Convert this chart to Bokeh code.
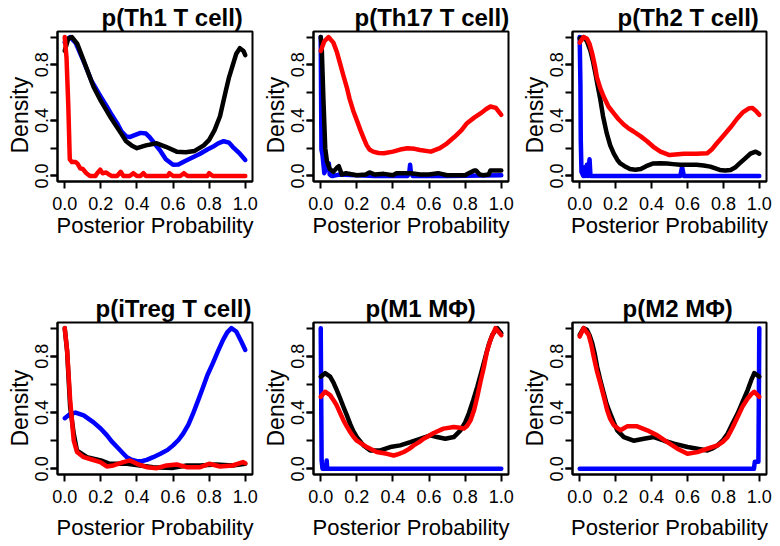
from bokeh.plotting import figure
from bokeh.layouts import row, column
from bokeh.models import Range1d, FixedTicker, NumeralTickFormatter, Title
from bokeh.embed import file_html
from bokeh.resources import INLINE

# ---------------- data (normalised density) ----------------
titles = ["p(Th1 T cell)", "p(Th17 T cell)", "p(Th2 T cell)",
          "p(iTreg T cell)", "p(M1 M\u03a6)", "p(M2 M\u03a6)"]
x_ticks = [0.0, 0.2, 0.4, 0.6, 0.8, 1.0]
y_label_ticks = [0.0, 0.4, 0.8]
y_all_ticks = [0.0, 0.2, 0.4, 0.6, 0.8, 1.0]
x_label = "Posterior Probability"
y_label = "Density"

# Th1
th1_blue_x = [0.0, 0.03, 0.06, 0.1, 0.15, 0.2, 0.233, 0.26, 0.29, 0.315, 0.34, 0.36, 0.38, 0.42, 0.45, 0.47, 0.5, 0.53, 0.56, 0.6, 0.63, 0.67, 0.71, 0.75, 0.79, 0.82, 0.85, 0.88, 0.91, 0.93, 0.97, 1.0]
th1_blue_y = [0.96, 1.0, 0.96, 0.84, 0.68, 0.57, 0.50, 0.44, 0.38, 0.32, 0.285, 0.28, 0.29, 0.31, 0.305, 0.28, 0.23, 0.18, 0.12, 0.08, 0.082, 0.11, 0.135, 0.16, 0.19, 0.21, 0.235, 0.25, 0.24, 0.21, 0.16, 0.115]
th1_black_x = [0.0, 0.02, 0.04, 0.07, 0.105, 0.16, 0.2, 0.25, 0.31, 0.34, 0.37, 0.4, 0.45, 0.51, 0.56, 0.62, 0.67, 0.72, 0.77, 0.8, 0.83, 0.86, 0.89, 0.91, 0.95, 0.97, 0.99, 1.0]
th1_black_y = [0.90, 0.99, 1.0, 0.95, 0.83, 0.64, 0.54, 0.43, 0.31, 0.25, 0.22, 0.20, 0.22, 0.235, 0.21, 0.175, 0.17, 0.18, 0.22, 0.26, 0.33, 0.43, 0.6, 0.71, 0.88, 0.92, 0.9, 0.87]
th1_red_x = [0.0, 0.01, 0.02, 0.028, 0.04, 0.06, 0.07, 0.086, 0.1, 0.12, 0.14, 0.17, 0.18, 0.197, 0.21, 0.23, 0.245, 0.26, 0.29, 0.31, 0.325, 0.36, 0.38, 0.4, 0.42, 0.436, 0.45, 0.57, 0.58, 0.6, 0.64, 0.66, 0.68, 0.79, 0.8, 0.82, 1.0]
th1_red_y = [1.0, 0.85, 0.5, 0.12, 0.1, 0.1, 0.09, 0.055, 0.05, 0.02, 0.0, 0.0, 0.02, 0.045, 0.02, 0.025, 0.01, 0.0, 0.0, 0.03, 0.0, 0.0, 0.02, 0.0, 0.0, 0.02, 0.0, 0.0, 0.02, 0.0, 0.0, 0.02, 0.0, 0.0, 0.02, 0.0, 0.0]

# Th17
th17_blue_x = [0.0, 0.004, 0.01, 0.02, 0.03, 0.045, 0.05, 0.06, 0.07, 0.1, 0.3, 0.48, 0.49, 0.495, 0.5, 0.51, 0.7, 1.0]
th17_blue_y = [1.0, 0.19, 0.15, 0.02, 0.06, 0.09, 0.01, 0.0, 0.0, 0.01, 0.0, 0.0, 0.02, 0.08, 0.02, 0.0, 0.0, 0.005]
th17_black_x = [0.0, 0.005, 0.015, 0.025, 0.035, 0.05, 0.07, 0.09, 0.1, 0.117, 0.14, 0.2, 0.25, 0.27, 0.3, 0.35, 0.4, 0.42, 0.5, 0.55, 0.6, 0.65, 0.7, 0.8, 0.82, 0.85, 0.86, 0.88, 0.9, 0.93, 0.94, 1.0]
th17_black_y = [1.0, 0.95, 0.55, 0.2, 0.1, 0.05, 0.03, 0.06, 0.07, 0.01, 0.02, 0.005, 0.01, 0.025, 0.01, 0.015, 0.005, 0.02, 0.02, 0.01, 0.01, 0.02, 0.005, 0.005, 0.02, 0.04, 0.04, 0.01, 0.005, 0.01, 0.04, 0.04]
th17_red_x = [0.0, 0.02, 0.043, 0.07, 0.09, 0.107, 0.125, 0.144, 0.16, 0.18, 0.2, 0.22, 0.24, 0.255, 0.27, 0.29, 0.32, 0.35, 0.4, 0.44, 0.48, 0.52, 0.55, 0.61, 0.66, 0.7, 0.74, 0.78, 0.81, 0.85, 0.885, 0.915, 0.94, 0.97, 1.0]
th17_red_y = [0.90, 0.97, 1.0, 0.96, 0.89, 0.81, 0.725, 0.64, 0.555, 0.47, 0.40, 0.33, 0.265, 0.22, 0.19, 0.175, 0.165, 0.163, 0.175, 0.19, 0.2, 0.195, 0.187, 0.175, 0.2, 0.235, 0.28, 0.33, 0.38, 0.42, 0.45, 0.48, 0.50, 0.49, 0.44]

# Th2
th2_blue_x = [0.0, 0.004, 0.006, 0.01, 0.02, 0.025, 0.03, 0.04, 0.045, 0.055, 0.06, 0.56, 0.57, 0.58, 1.0]
th2_blue_y = [1.0, 0.66, 0.26, 0.03, 0.0, 0.06, 0.0, 0.08, 0.0, 0.12, 0.0, 0.0, 0.065, 0.0, 0.0]
th2_black_x = [0.0, 0.022, 0.04, 0.06, 0.075, 0.087, 0.1, 0.115, 0.13, 0.15, 0.17, 0.19, 0.21, 0.226, 0.25, 0.28, 0.31, 0.34, 0.37, 0.41, 0.45, 0.486, 0.52, 0.56, 0.6, 0.65, 0.69, 0.727, 0.76, 0.78, 0.81, 0.84, 0.865, 0.89, 0.92, 0.95, 0.98, 1.0]
th2_black_y = [0.99, 1.0, 0.97, 0.9, 0.82, 0.74, 0.65, 0.55, 0.43, 0.31, 0.22, 0.16, 0.115, 0.09, 0.07, 0.05, 0.045, 0.05, 0.07, 0.09, 0.092, 0.09, 0.085, 0.08, 0.08, 0.08, 0.075, 0.067, 0.052, 0.043, 0.04, 0.043, 0.06, 0.09, 0.125, 0.16, 0.175, 0.16]
th2_red_x = [0.0, 0.022, 0.04, 0.055, 0.07, 0.085, 0.096, 0.115, 0.134, 0.16, 0.19, 0.215, 0.245, 0.27, 0.3, 0.34, 0.375, 0.41, 0.45, 0.5, 0.58, 0.65, 0.71, 0.735, 0.76, 0.8, 0.84, 0.875, 0.91, 0.94, 0.96, 0.98, 1.0]
th2_red_y = [0.96, 1.0, 0.99, 0.95, 0.88, 0.79, 0.71, 0.63, 0.57, 0.5, 0.45, 0.41, 0.37, 0.345, 0.32, 0.285, 0.25, 0.21, 0.175, 0.15, 0.16, 0.16, 0.163, 0.19, 0.23, 0.29, 0.35, 0.41, 0.46, 0.485, 0.49, 0.47, 0.44]

# iTreg
itreg_blue_x = [0.0, 0.03, 0.06, 0.105, 0.16, 0.2, 0.233, 0.26, 0.29, 0.32, 0.344, 0.37, 0.4, 0.43, 0.454, 0.49, 0.53, 0.57, 0.6, 0.63, 0.656, 0.685, 0.71, 0.74, 0.766, 0.79, 0.82, 0.85, 0.877, 0.9, 0.923, 0.95, 0.978, 1.0]
itreg_blue_y = [0.36, 0.39, 0.40, 0.38, 0.33, 0.285, 0.24, 0.195, 0.155, 0.115, 0.083, 0.065, 0.055, 0.056, 0.064, 0.083, 0.107, 0.135, 0.167, 0.205, 0.25, 0.315, 0.39, 0.49, 0.58, 0.665, 0.75, 0.84, 0.917, 0.97, 1.0, 0.976, 0.905, 0.845]
itreg_black_x = [0.0, 0.013, 0.03, 0.05, 0.068, 0.123, 0.2, 0.25, 0.344, 0.417, 0.49, 0.6, 0.675, 0.75, 0.84, 0.93, 1.0]
itreg_black_y = [1.0, 0.84, 0.44, 0.25, 0.13, 0.083, 0.06, 0.036, 0.036, 0.024, 0.012, 0.007, 0.024, 0.024, 0.031, 0.024, 0.036]
itreg_red_x = [0.0, 0.013, 0.03, 0.05, 0.068, 0.105, 0.14, 0.197, 0.233, 0.27, 0.325, 0.362, 0.4, 0.454, 0.51, 0.564, 0.62, 0.675, 0.75, 0.8, 0.86, 0.93, 0.987, 1.0]
itreg_red_y = [1.0, 0.845, 0.49, 0.2, 0.12, 0.083, 0.07, 0.048, 0.017, 0.024, 0.048, 0.06, 0.036, 0.012, 0.005, 0.024, 0.031, 0.012, 0.012, 0.036, 0.017, 0.024, 0.048, 0.04]

# M1
m1_blue_x = [0.0, 0.005, 0.01, 0.03, 0.033, 0.036, 1.0]
m1_blue_y = [1.0, 0.06, 0.0, 0.0, 0.06, 0.0, 0.0]
m1_black_x = [0.0, 0.024, 0.052, 0.07, 0.089, 0.108, 0.126, 0.145, 0.163, 0.18, 0.2, 0.237, 0.274, 0.33, 0.385, 0.44, 0.496, 0.55, 0.607, 0.644, 0.69, 0.737, 0.774, 0.8, 0.82, 0.845, 0.867, 0.89, 0.913, 0.93, 0.95, 0.978, 1.0]
m1_black_y = [0.655, 0.68, 0.655, 0.615, 0.56, 0.5, 0.44, 0.38, 0.32, 0.27, 0.226, 0.167, 0.131, 0.131, 0.155, 0.167, 0.19, 0.214, 0.238, 0.226, 0.214, 0.226, 0.274, 0.33, 0.393, 0.49, 0.583, 0.69, 0.8, 0.88, 0.952, 1.0, 0.964]
m1_red_x = [0.0, 0.024, 0.052, 0.07, 0.089, 0.108, 0.126, 0.145, 0.163, 0.18, 0.2, 0.255, 0.31, 0.367, 0.404, 0.43, 0.46, 0.49, 0.515, 0.545, 0.57, 0.6, 0.626, 0.68, 0.737, 0.77, 0.793, 0.81, 0.83, 0.85, 0.867, 0.885, 0.904, 0.92, 0.94, 0.968, 1.0]
m1_red_y = [0.512, 0.548, 0.524, 0.49, 0.45, 0.395, 0.345, 0.3, 0.262, 0.23, 0.2, 0.155, 0.12, 0.107, 0.095, 0.105, 0.12, 0.142, 0.167, 0.19, 0.214, 0.235, 0.255, 0.286, 0.298, 0.292, 0.286, 0.305, 0.345, 0.42, 0.512, 0.62, 0.726, 0.83, 0.917, 1.0, 0.95]

# M2
m2_blue_x = [0.0, 0.97, 0.975, 0.99, 0.995, 1.0]
m2_blue_y = [0.0, 0.0, 0.05, 0.05, 0.05, 1.0]
m2_black_x = [0.0, 0.022, 0.04, 0.055, 0.07, 0.085, 0.097, 0.115, 0.134, 0.15, 0.17, 0.19, 0.209, 0.246, 0.3, 0.357, 0.413, 0.47, 0.525, 0.6, 0.655, 0.711, 0.74, 0.767, 0.795, 0.823, 0.85, 0.879, 0.905, 0.935, 0.955, 0.972, 1.0]
m2_black_y = [0.952, 1.0, 0.988, 0.95, 0.893, 0.81, 0.726, 0.63, 0.536, 0.46, 0.393, 0.33, 0.274, 0.226, 0.2, 0.214, 0.226, 0.2, 0.179, 0.155, 0.143, 0.131, 0.145, 0.167, 0.2, 0.25, 0.32, 0.393, 0.47, 0.56, 0.63, 0.68, 0.655]
m2_red_x = [0.0, 0.022, 0.05, 0.065, 0.078, 0.095, 0.115, 0.135, 0.153, 0.17, 0.19, 0.227, 0.264, 0.32, 0.376, 0.432, 0.488, 0.544, 0.6, 0.655, 0.711, 0.767, 0.795, 0.823, 0.85, 0.879, 0.905, 0.935, 0.955, 0.972, 1.0]
m2_red_y = [0.94, 1.0, 0.952, 0.88, 0.798, 0.7, 0.607, 0.51, 0.417, 0.355, 0.31, 0.274, 0.302, 0.302, 0.274, 0.238, 0.19, 0.143, 0.107, 0.119, 0.143, 0.167, 0.19, 0.226, 0.29, 0.369, 0.44, 0.5, 0.53, 0.548, 0.512]

series = [
    ((th1_blue_x, th1_blue_y), (th1_black_x, th1_black_y), (th1_red_x, th1_red_y)),
    ((th17_blue_x, th17_blue_y), (th17_black_x, th17_black_y), (th17_red_x, th17_red_y)),
    ((th2_blue_x, th2_blue_y), (th2_black_x, th2_black_y), (th2_red_x, th2_red_y)),
    ((itreg_blue_x, itreg_blue_y), (itreg_black_x, itreg_black_y), (itreg_red_x, itreg_red_y)),
    ((m1_blue_x, m1_blue_y), (m1_black_x, m1_black_y), (m1_red_x, m1_red_y)),
    ((m2_blue_x, m2_blue_y), (m2_black_x, m2_black_y), (m2_red_x, m2_red_y)),
]

# ---------------- styling / layout ----------------
FONT = "Liberation Sans"
COLORS = ["#0000ff", "#000000", "#ff0000"]

col_w = [258, 260, 260]
col_left = [57, 55, 54]
col_right = [6, 10, 12]
row_h = [265, 279]
row_top = [31, 57]
row_bottom = [84, 70]
title_offset = [44, 41, 45, 38, 52, 50]
title_standoff = [2, 1]
xlab_standoff = [0, 9]


def make_panel(i):
    r, c = divmod(i, 3)
    p = figure(width=col_w[c], height=row_h[r],
               x_range=Range1d(-0.04, 1.04), y_range=Range1d(-0.04, 1.04),
               output_backend="svg", toolbar_location=None,
               min_border_left=col_left[c], min_border_right=col_right[c],
               min_border_top=row_top[r], min_border_bottom=row_bottom[r])
    p.grid.visible = False
    p.background_fill_color = "white"
    p.border_fill_color = "white"
    p.outline_line_color = "black"
    p.outline_line_width = 2
    p.outline_line_alpha = 1.0

    for (xs, ys), col in zip(series[i], COLORS):
        p.line(xs, ys, line_color=col, line_width=4.5, line_join="round", line_cap="round")

    p.title.text = titles[i]
    p.title.align = "left"
    p.title.offset = title_offset[i]
    p.title.standoff = title_standoff[r]
    p.title.text_font = FONT
    p.title.text_font_size = "24px"
    p.title.text_font_style = "bold"
    p.title.text_color = "black"

    xa = p.xaxis[0]
    xa.ticker = FixedTicker(ticks=x_ticks)
    xa.formatter = NumeralTickFormatter(format="0.0")
    xa.axis_label = x_label
    ya = p.yaxis[0]
    ya.ticker = FixedTicker(ticks=y_label_ticks, minor_ticks=y_all_ticks)
    ya.formatter = NumeralTickFormatter(format="0.0")
    ya.major_label_orientation = "vertical"
    for ax in (xa, ya):
        ax.axis_line_color = "black"
        ax.axis_line_width = 2
        ax.major_tick_in = 0
        ax.major_tick_out = 7
        ax.major_tick_line_width = 2
        ax.major_tick_line_color = "black"
        ax.major_label_text_font = FONT
        ax.major_label_text_font_size = "18px"
        ax.major_label_text_color = "black"
        ax.axis_label_text_font = FONT
        ax.axis_label_text_font_size = "22px"
        ax.axis_label_text_font_style = "normal"
        ax.axis_label_text_color = "black"
    xa.minor_tick_line_color = None
    xa.major_label_standoff = 8
    xa.axis_label_standoff = xlab_standoff[r]
    ya.minor_tick_in = 0
    ya.minor_tick_out = 7
    ya.minor_tick_line_width = 2
    ya.minor_tick_line_color = "black"
    ya.major_label_standoff = 2

    p.add_layout(Title(text=y_label, align="left", offset=28, standoff=0,
                       text_font=FONT, text_font_size="23px", text_font_style="normal",
                       text_color="black"), "left")
    return p


panels = [make_panel(i) for i in range(6)]
layout = column(row(*panels[:3]), row(*panels[3:]))

with open("out.html", "w") as f:
    f.write(file_html(layout, INLINE))
